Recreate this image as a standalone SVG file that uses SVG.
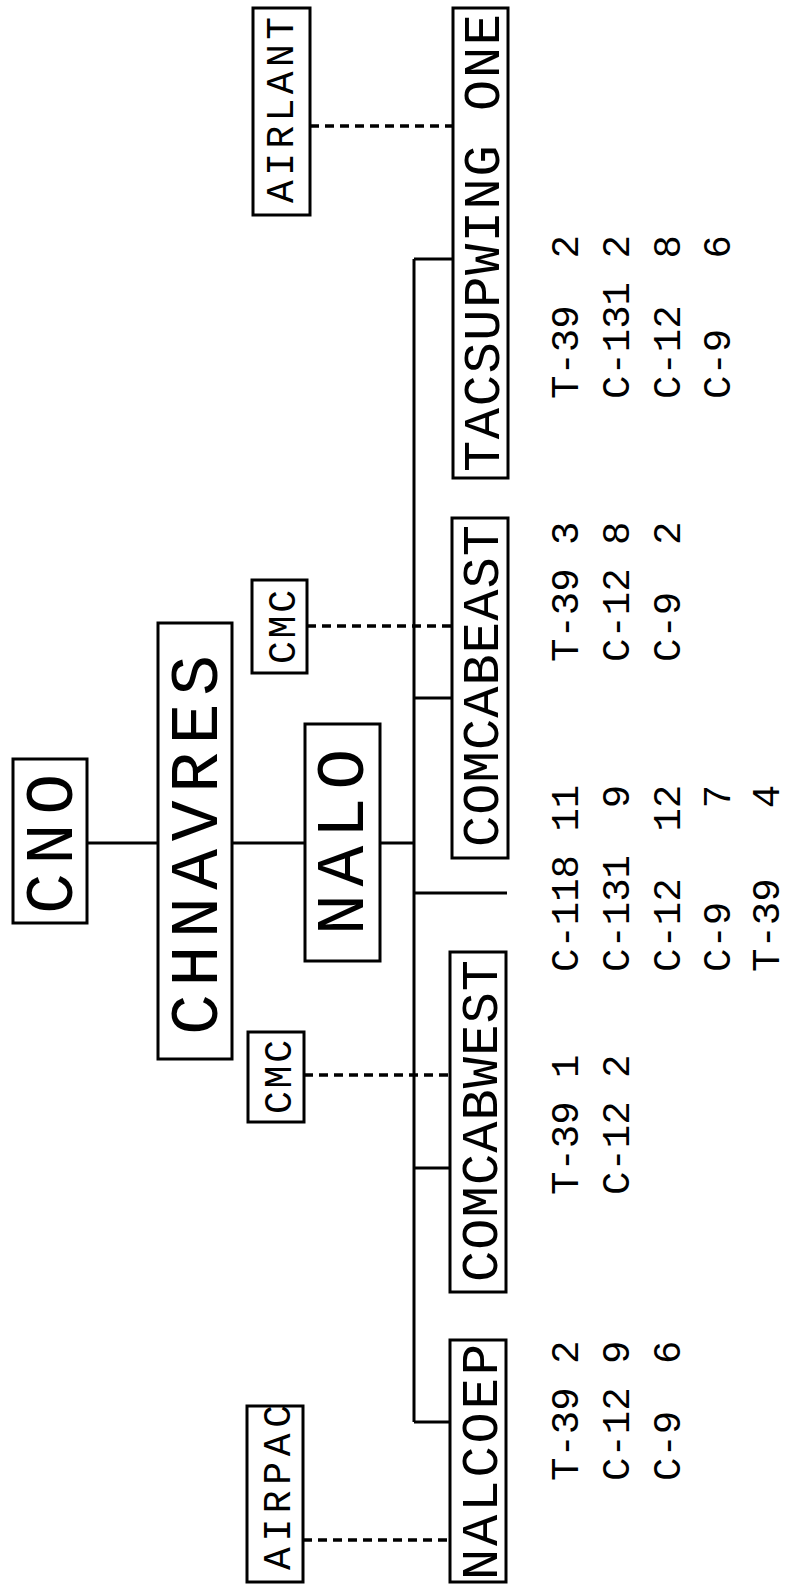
<svg xmlns="http://www.w3.org/2000/svg" width="789" height="1584" viewBox="0 0 789 1584">
<style>
.box{fill:none;stroke:#000;stroke-width:3}
.ln{fill:none;stroke:#000;stroke-width:3}
.dash{fill:none;stroke:#000;stroke-width:3.5;stroke-dasharray:9 6}
text{font-family:"Liberation Mono","DejaVu Sans Mono",monospace;fill:#000}
.big{font-size:68px}
.mid{font-size:52px}
.sm{font-size:38px}
.num{font-size:39px;white-space:pre}
</style>
<rect width="789" height="1584" fill="#fff"/>
<g id="connectors">
<path class="ln" d="M87 843H158 M232 843H305 M380 843H414 M414 259V1422 M414 259H453 M414 698H452 M414 893H507 M414 1168H450 M414 1422H450"/>
<path class="dash" d="M310 126H453 M307 626H452 M304 1075H450 M303 1540H450"/>
</g>
<g id="airlant"><rect class="box" x="253" y="8" width="57" height="207"/><text class="sm" transform="translate(293,203) rotate(-90)" textLength="186" lengthAdjust="spacing">AIRLANT</text></g>
<g id="tacsupwing"><rect class="box" x="453" y="8" width="55" height="470"/><text class="mid" transform="translate(499,472) rotate(-90)" textLength="458" lengthAdjust="spacing">TACSUPWING ONE</text></g>
<g id="cmc-east"><rect class="box" x="252" y="580" width="55" height="93"/><text class="sm" transform="translate(295,664) rotate(-90)" textLength="74" lengthAdjust="spacing">CMC</text></g>
<g id="comcabeast"><rect class="box" x="452" y="518" width="56" height="340"/><text class="mid" transform="translate(498,847) rotate(-90)" textLength="322" lengthAdjust="spacing">COMCABEAST</text></g>
<g id="cno"><rect class="box" x="13" y="759" width="74" height="164"/><text class="big" transform="translate(72,914) rotate(-90)" textLength="140" lengthAdjust="spacing">CNO</text></g>
<g id="chnavres"><rect class="box" x="158" y="623" width="74" height="436"/><text class="big" transform="translate(217,1035) rotate(-90)" textLength="380" lengthAdjust="spacing">CHNAVRES</text></g>
<g id="nalo"><rect class="box" x="305" y="724" width="75" height="237"/><text class="big" transform="translate(363,935) rotate(-90)" textLength="186" lengthAdjust="spacing">NALO</text></g>
<g id="comcabwest"><rect class="box" x="450" y="952" width="56" height="340"/><text class="mid" transform="translate(497,1282) rotate(-90)" textLength="322" lengthAdjust="spacing">COMCABWEST</text></g>
<g id="cmc-west"><rect class="box" x="248" y="1032" width="56" height="90"/><text class="sm" transform="translate(291,1114) rotate(-90)" textLength="74" lengthAdjust="spacing">CMC</text></g>
<g id="nalcoep"><rect class="box" x="450" y="1340" width="56" height="242"/><text class="mid" transform="translate(497,1580) rotate(-90)" textLength="236" lengthAdjust="spacing">NALCOEP</text></g>
<g id="airpac"><rect class="box" x="247" y="1406" width="56" height="176"/><text class="sm" transform="translate(290,1570) rotate(-90)" textLength="165" lengthAdjust="spacing">AIRPAC</text></g>
<g id="tacsupwing-aircraft">
<text class="num" xml:space="preserve" transform="translate(578,399) rotate(-90)">T-39  2</text>
<text class="num" xml:space="preserve" transform="translate(629,399) rotate(-90)">C-131 2</text>
<text class="num" xml:space="preserve" transform="translate(680,399) rotate(-90)">C-12  8</text>
<text class="num" xml:space="preserve" transform="translate(730,399) rotate(-90)">C-9   6</text>
</g>
<g id="comcabeast-aircraft">
<text class="num" xml:space="preserve" transform="translate(578,662) rotate(-90)">T-39 3</text>
<text class="num" xml:space="preserve" transform="translate(629,662) rotate(-90)">C-12 8</text>
<text class="num" xml:space="preserve" transform="translate(680,662) rotate(-90)">C-9  2</text>
</g>
<g id="nalo-aircraft">
<text class="num" xml:space="preserve" transform="translate(578,972) rotate(-90)">C-118 11</text>
<text class="num" xml:space="preserve" transform="translate(629,972) rotate(-90)">C-131  9</text>
<text class="num" xml:space="preserve" transform="translate(680,972) rotate(-90)">C-12  12</text>
<text class="num" xml:space="preserve" transform="translate(730,972) rotate(-90)">C-9    7</text>
<text class="num" xml:space="preserve" transform="translate(779,972) rotate(-90)">T-39   4</text>
</g>
<g id="comcabwest-aircraft">
<text class="num" xml:space="preserve" transform="translate(578,1195) rotate(-90)">T-39 1</text>
<text class="num" xml:space="preserve" transform="translate(629,1195) rotate(-90)">C-12 2</text>
</g>
<g id="nalcoep-aircraft">
<text class="num" xml:space="preserve" transform="translate(578,1481) rotate(-90)">T-39 2</text>
<text class="num" xml:space="preserve" transform="translate(629,1481) rotate(-90)">C-12 9</text>
<text class="num" xml:space="preserve" transform="translate(680,1481) rotate(-90)">C-9  6</text>
</g>
</svg>
